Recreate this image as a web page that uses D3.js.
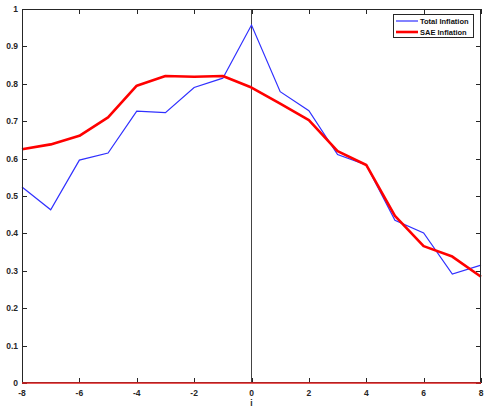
<!DOCTYPE html>
<html><head><meta charset="utf-8">
<script src="https://cdn.jsdelivr.net/npm/d3@7"></script>
<style>body{margin:0;background:#fff}svg{display:block}</style>
</head><body>
<svg id="c" width="485" height="407"></svg>
<script>
const lags = [-8,-7,-6,-5,-4,-3,-2,-1,0,1,2,3,4,5,6,7,8];
const totalInflation = [0.524,0.463,0.596,0.615,0.727,0.723,0.790,0.815,0.957,0.779,0.728,0.611,0.583,0.435,0.401,0.291,0.315];
const saeInflation   = [0.625,0.638,0.661,0.710,0.795,0.821,0.819,0.821,0.790,0.747,0.703,0.620,0.583,0.447,0.366,0.338,0.284];
const xTicks = [-8,-6,-4,-2,0,2,4,6,8];
const yTicks = [0,0.1,0.2,0.3,0.4,0.5,0.6,0.7,0.8,0.9,1];
const seriesNames = ["Total Inflation","SAE Inflation"];

const L=22, R=481, T=9, B=383;
const svg = d3.select("#c");
const x = d3.scaleLinear().domain([-8,8]).range([L,R]);
const y = d3.scaleLinear().domain([0,1]).range([B,T]);
const font = "Helvetica, 'Liberation Sans', Arial, sans-serif";

// zero lines
svg.append("line").attr("x1",x(0)).attr("x2",x(0)).attr("y1",T).attr("y2",B)
  .attr("stroke","#444").attr("stroke-width",1);

const line = d3.line().x((d,i)=>x(lags[i])).y(d=>y(d));
svg.append("path").datum(totalInflation).attr("d",line).attr("fill","none")
  .attr("stroke","#3030ff").attr("stroke-width",1.2);
svg.append("path").datum(saeInflation).attr("d",line).attr("fill","none")
  .attr("stroke","#ff0000").attr("stroke-width",2.6).attr("stroke-linejoin","round");

// axes (box, ticks inside)
const ax = svg.append("g").attr("stroke","#262626").attr("stroke-width",1).attr("fill","none");
ax.append("rect").attr("x",L+0.5).attr("y",T+0.5).attr("width",R-L-1).attr("height",B-T-1);
xTicks.forEach(t=>{
  ax.append("line").attr("x1",Math.round(x(t))+0.5).attr("x2",Math.round(x(t))+0.5).attr("y1",B).attr("y2",B-5);
  ax.append("line").attr("x1",Math.round(x(t))+0.5).attr("x2",Math.round(x(t))+0.5).attr("y1",T).attr("y2",T+5);
});
yTicks.forEach(t=>{
  ax.append("line").attr("y1",Math.round(y(t))+0.5).attr("y2",Math.round(y(t))+0.5).attr("x1",L).attr("x2",L+5);
  ax.append("line").attr("y1",Math.round(y(t))+0.5).attr("y2",Math.round(y(t))+0.5).attr("x1",R).attr("x2",R-5);
});

// red zero line along bottom
svg.append("line").attr("x1",L).attr("x2",R).attr("y1",y(0)).attr("y2",y(0))
  .attr("stroke","#e02020").attr("stroke-width",1.6);

// tick labels
svg.append("g").selectAll("text").data(xTicks).join("text")
  .attr("x",d=>x(d)).attr("y",396).attr("text-anchor","middle")
  .attr("font-family",font).attr("font-weight","bold").attr("font-size",8.5).attr("fill","#262626")
  .text(d=>d);
svg.append("g").selectAll("text").data(yTicks).join("text")
  .attr("x",18).attr("y",d=>y(d)+3).attr("text-anchor","end")
  .attr("font-family",font).attr("font-weight","bold").attr("font-size",8.5).attr("fill","#262626")
  .text(d=>d);
svg.append("text").attr("x",x(0)).attr("y",406).attr("text-anchor","middle")
  .attr("font-family",font).attr("font-weight","bold").attr("font-size",8.5).attr("fill","#262626").text("i");

// legend
const lg = svg.append("g");
lg.append("rect").attr("x",393.5).attr("y",14.5).attr("width",80).attr("height",23)
  .attr("fill","#fff").attr("stroke","#262626").attr("stroke-width",1);
const colors = ["#3030ff","#ff0000"], widths=[1.2,2.6];
seriesNames.forEach((n,i)=>{
  const yy = 21 + i*11;
  lg.append("line").attr("x1",396).attr("x2",418).attr("y1",yy).attr("y2",yy)
    .attr("stroke",colors[i]).attr("stroke-width",widths[i]);
  lg.append("text").attr("x",420).attr("y",yy+3).attr("font-family",font).attr("font-weight","bold")
    .attr("font-size",7.5).attr("fill","#111").text(n);
});
</script>
</body></html>
